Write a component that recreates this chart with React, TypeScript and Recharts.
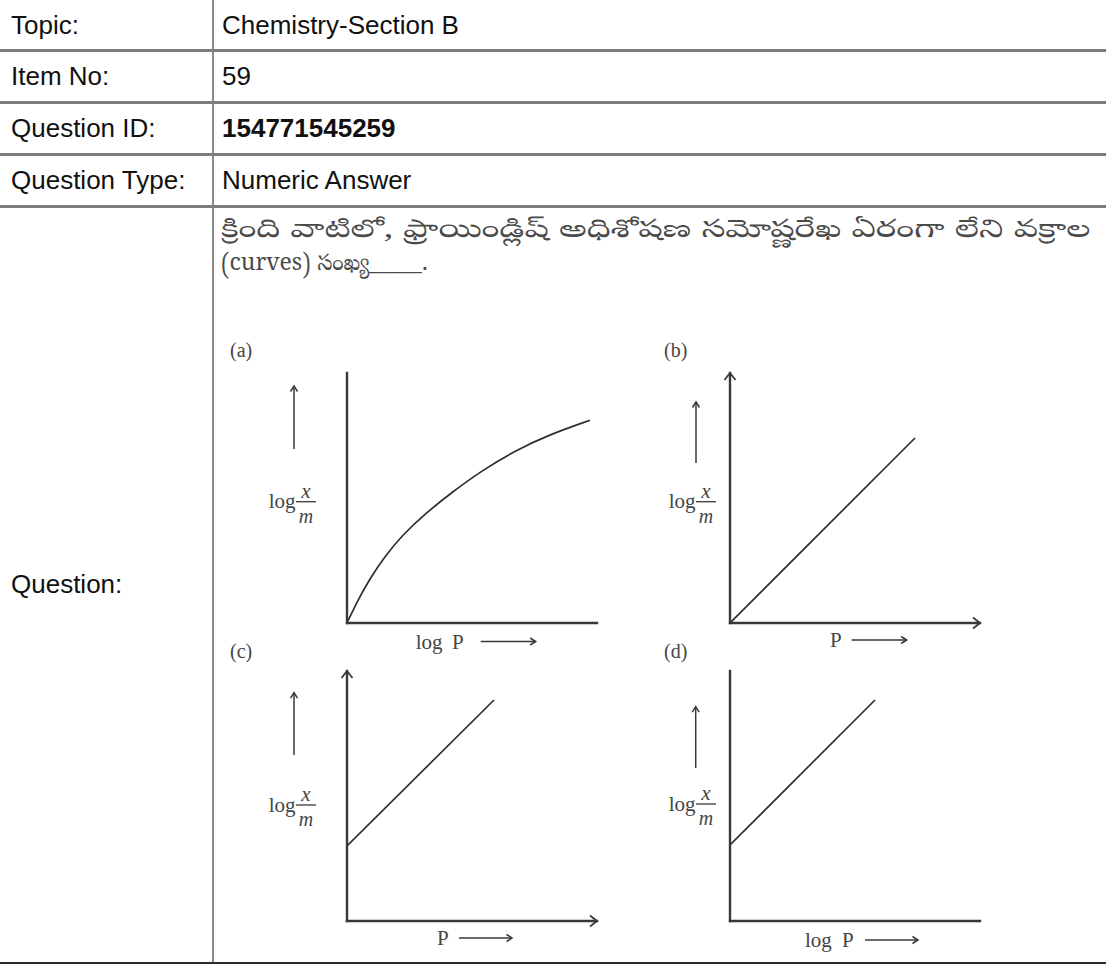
import React from 'react';
import { LineChart, Line, XAxis, YAxis } from 'recharts';

// table text
const rowLabels = ['Topic:', 'Item No:', 'Question ID:', 'Question Type:', 'Question:'];
const rowValues = ['Chemistry-Section B', '59', '154771545259', 'Numeric Answer'];
const rowEdges = [0, 50, 102, 154, 206, 963];
const questionLines = [
  'క్రింది వాటిలో, ఫ్రాయిండ్లిష్ అధిశోషణ సమోష్ణరేఖ ఏరంగా లేని వక్రాల',
  '(curves) సంఖ్య_____.',
];

// four sketches, both axes run 0..100
const panelTags = ['(a)', '(b)', '(c)', '(d)'];
const xCaptions = ['log P', 'P', 'P', 'log P'];

const curveAX = [0, 4, 9, 15, 22, 31, 42, 54, 67, 81, 97.2];
const curveAY = [0, 8.5, 17.5, 26.5, 35, 43.5, 52.3, 61, 68.8, 75.4, 81.1];
const lineBX = [0, 74];
const lineBY = [0, 74];
const lineCX = [0, 58.8];
const lineCY = [30, 88.4];
const lineDX = [0, 58];
const lineDY = [30.4, 88.4];

const Y_W = 130;
const PLOT = 250;
const TOP_M = 12;
const X_H = 40;
const RIGHT_M = 15;

const INK = '#383838';
const TEXT_INK = '#454545';
const SERIF = '"Liberation Serif", "Times New Roman", serif';

type Caption = { words: number[]; arrow: [number, number]; dy: number };
type UpArrow = { dx: number; y1: number; y2: number };

interface PanelSpec {
  id: string;
  xs: number[];
  ys: number[];
  ox: number;
  oy: number;
  smooth: boolean;
  xArrow: boolean;
  yArrow: boolean;
  cap: Caption;
  up: UpArrow;
  frac: { dx: number; dy: number };
  tagAt: [number, number];
}

const panels: PanelSpec[] = [
  {
    id: 'a', xs: curveAX, ys: curveAY, ox: 347, oy: 623, smooth: true, xArrow: false, yArrow: false,
    cap: { words: [68.7, 105], arrow: [133.7, 188.7], dy: 25.5 },
    up: { dx: -53, y1: 13, y2: 76 }, frac: { dx: -41, dy: 128.7 }, tagAt: [230, 350],
  },
  {
    id: 'b', xs: lineBX, ys: lineBY, ox: 730, oy: 623, smooth: false, xArrow: true, yArrow: true,
    cap: { words: [100], arrow: [121.7, 176.7], dy: 24 },
    up: { dx: -34, y1: 29, y2: 90 }, frac: { dx: -24, dy: 128.7 }, tagAt: [664, 350],
  },
  {
    id: 'c', xs: lineCX, ys: lineCY, ox: 347, oy: 921, smooth: false, xArrow: true, yArrow: true,
    cap: { words: [90], arrow: [112, 165], dy: 24 },
    up: { dx: -53, y1: 21.7, y2: 84 }, frac: { dx: -41, dy: 134 }, tagAt: [230, 651],
  },
  {
    id: 'd', xs: lineDX, ys: lineDY, ox: 730, oy: 921, smooth: false, xArrow: false, yArrow: false,
    cap: { words: [75, 112], arrow: [135, 188], dy: 26 },
    up: { dx: -34.3, y1: 35.7, y2: 97 }, frac: { dx: -24, dy: 133 }, tagAt: [664, 651],
  },
];

const XCaption = ({ viewBox, text, cap, mark }: any) => {
  if (!viewBox) return null;
  const { x, y } = viewBox;
  const words = text.split(' ');
  const base = y + cap.dy;
  return (
    <g>
      {words.map((w: string, i: number) => (
        <text key={w + i} x={x + cap.words[i]} y={base} fontFamily={SERIF} fontSize={21} fill={TEXT_INK}>
          {w}
        </text>
      ))}
      <line
        x1={x + cap.arrow[0]} y1={base - 7} x2={x + cap.arrow[1]} y2={base - 7}
        stroke={INK} strokeWidth={1.5} markerEnd={`url(#small-${mark})`}
      />
    </g>
  );
};

const YCaption = ({ viewBox, up, frac, mark }: any) => {
  if (!viewBox) return null;
  const axisX = viewBox.x + viewBox.width;
  const top = viewBox.y;
  const bx = axisX + frac.dx;
  const by = top + frac.dy;
  return (
    <g>
      <line
        x1={axisX + up.dx} y1={top + up.y1} x2={axisX + up.dx} y2={top + up.y2}
        stroke={INK} strokeWidth={1.5} markerStart={`url(#small-${mark})`}
      />
      <text x={bx - 10.5} y={by + 6.5} textAnchor="end" fontFamily={SERIF} fontSize={21} fill={TEXT_INK}>
        log
      </text>
      <text x={bx} y={by - 4} textAnchor="middle" fontFamily={SERIF} fontStyle="italic" fontSize={21} fill={TEXT_INK}>
        x
      </text>
      <line x1={bx - 10} y1={by} x2={bx + 10} y2={by} stroke={TEXT_INK} strokeWidth={1.4} />
      <text x={bx} y={by + 21} textAnchor="middle" fontFamily={SERIF} fontStyle="italic" fontSize={20} fill={TEXT_INK}>
        m
      </text>
    </g>
  );
};

const Panel = ({ spec, caption }: { spec: PanelSpec; caption: string }) => {
  const data = spec.xs.map((x, i) => ({ x, y: spec.ys[i] }));
  const w = Y_W + PLOT + RIGHT_M;
  const h = TOP_M + PLOT + X_H;
  return (
    <div style={{ position: 'absolute', left: spec.ox - Y_W, top: spec.oy - PLOT - TOP_M }}>
      <LineChart width={w} height={h} data={data} margin={{ top: TOP_M, right: RIGHT_M, bottom: 0, left: 0 }}>
        <defs>
          <marker
            id={`big-${spec.id}`} viewBox="-10 -8 12 16" refX={0} refY={0}
            markerWidth={12} markerHeight={16} markerUnits="userSpaceOnUse" orient="auto-start-reverse"
          >
            <path d="M-7,-5.5 L0,0 L-7,5.5" fill="none" stroke={INK} strokeWidth={1.8} />
          </marker>
          <marker
            id={`small-${spec.id}`} viewBox="-10 -8 12 16" refX={0} refY={0}
            markerWidth={12} markerHeight={16} markerUnits="userSpaceOnUse" orient="auto-start-reverse"
          >
            <path d="M-5.5,-3.5 L0,0 L-5.5,3.5" fill="none" stroke={INK} strokeWidth={1.5} />
          </marker>
        </defs>
        <XAxis
          dataKey="x" type="number" domain={[0, 100]} allowDataOverflow
          tick={false} tickLine={false} height={X_H}
          axisLine={{
            stroke: INK, strokeWidth: 2.4, strokeLinecap: 'square',
            markerEnd: spec.xArrow ? `url(#big-${spec.id})` : undefined,
          }}
          label={(props: any) => <XCaption viewBox={props.viewBox} text={caption} cap={spec.cap} mark={spec.id} />}
        />
        <YAxis
          type="number" domain={[0, 100]} allowDataOverflow
          tick={false} tickLine={false} width={Y_W}
          axisLine={{
            stroke: INK, strokeWidth: 2.4, strokeLinecap: 'square',
            markerStart: spec.yArrow ? `url(#big-${spec.id})` : undefined,
          }}
          label={(props: any) => <YCaption viewBox={props.viewBox} up={spec.up} frac={spec.frac} mark={spec.id} />}
        />
        <Line
          dataKey="y" type={spec.smooth ? 'basis' : 'linear'}
          stroke="#2f2f2f" strokeWidth={1.7} dot={false} activeDot={false} isAnimationActive={false}
        />
      </LineChart>
    </div>
  );
};

export default function App() {
  return (
    <div
      style={{
        position: 'absolute', left: 0, top: 0, width: 1106, height: 965, background: '#fff',
        fontFamily: '"Liberation Sans", Arial, sans-serif', color: '#111', overflow: 'hidden',
      }}
    >
      {/* column divider */}
      <div style={{ position: 'absolute', left: 212, top: 0, width: 2, height: 963, background: '#8a8a8a' }} />
      {rowEdges.slice(1, -1).map((e) => (
        <div key={e} style={{ position: 'absolute', left: 0, top: e - 1, width: 1106, height: 2.5, background: '#7d7d7d' }} />
      ))}
      <div style={{ position: 'absolute', left: 0, top: 962, width: 1106, height: 2, background: '#2a2a2a' }} />

      {rowLabels.map((label, i) => {
        const top = rowEdges[i];
        const hgt = rowEdges[i + 1] - top;
        return (
          <React.Fragment key={label}>
            <div style={{ position: 'absolute', left: 11, top, height: hgt, lineHeight: `${hgt}px`, fontSize: 26, whiteSpace: 'nowrap' }}>
              {label}
            </div>
            {rowValues[i] !== undefined && (
              <div
                style={{
                  position: 'absolute', left: 222, top, height: hgt, lineHeight: `${hgt}px`, fontSize: 26,
                  fontWeight: i === 2 ? 700 : 400, whiteSpace: 'nowrap',
                }}
              >
                {rowValues[i]}
              </div>
            )}
          </React.Fragment>
        );
      })}

      <div
        style={{
          position: 'absolute', left: 221, top: 215, lineHeight: '34px', color: '#4a4a4a',
          fontFamily: '"Noto Serif Telugu", "Noto Sans Telugu", Gautami, "Liberation Serif", serif', whiteSpace: 'nowrap',
        }}
      >
        <div style={{ fontSize: 25, transform: 'scaleX(1.45)', transformOrigin: 'left center' }}>
          {questionLines[0]}
        </div>
        <div style={{ fontSize: 23 }}>{questionLines[1]}</div>
      </div>

      {panels.map((p, i) => (
        <React.Fragment key={p.id}>
          <div
            style={{
              position: 'absolute', left: p.tagAt[0], top: p.tagAt[1] - 12, lineHeight: '24px',
              fontFamily: SERIF, fontSize: 20, color: TEXT_INK,
            }}
          >
            {panelTags[i]}
          </div>
          <Panel spec={p} caption={xCaptions[i]} />
        </React.Fragment>
      ))}
    </div>
  );
}
